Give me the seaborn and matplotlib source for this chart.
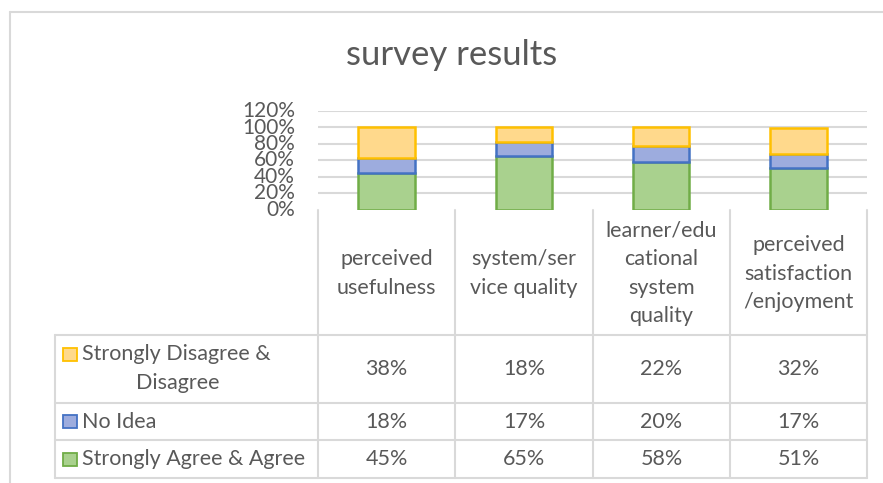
import matplotlib
matplotlib.use("Agg")
import matplotlib.pyplot as plt
import seaborn as sns
import pandas as pd
from matplotlib.lines import Line2D
from matplotlib.patches import Rectangle

# data
categories = ["perceived\nusefulness", "system/ser\nvice quality",
              "learner/edu\ncational\nsystem\nquality", "perceived\nsatisfaction\n/enjoyment"]
agree = [0.45, 0.65, 0.58, 0.51]
no_idea = [0.18, 0.17, 0.20, 0.17]
disagree = [0.38, 0.18, 0.22, 0.32]
series_names = ["Strongly Disagree &\nDisagree", "No Idea", "Strongly Agree & Agree"]

fills = {"agree": "#a9d18e", "no_idea": "#9dacde", "disagree": "#ffd98c"}
edges = {"agree": "#70ad47", "no_idea": "#4472c4", "disagree": "#ffc000"}
TXT = "#595959"
GRID = "#d9d9d9"
FS = 15.5

sns.set_theme(style="white")
plt.rcParams["font.family"] = ["Lato", "DejaVu Sans"]

W, H = 883, 483
fig = plt.figure(figsize=(W / 100, H / 100), dpi=100)


def fx(px):
    return px / W


def fy(py):
    return 1 - py / H


# plot area
x0, x1, ytop, ybot = 318, 867, 111, 210
ax = fig.add_axes([fx(x0), fy(ybot), fx(x1) - fx(x0), fy(ytop) - fy(ybot)])

df = pd.DataFrame({"cat": categories, "agree": agree, "no_idea": no_idea, "disagree": disagree})
df["b2"] = df["agree"] + df["no_idea"]

sns.barplot(data=df, x="cat", y="agree", color=fills["agree"], edgecolor=edges["agree"],
            linewidth=1.8, width=0.41, ax=ax, saturation=1, zorder=3)
sns.barplot(data=df, x="cat", y="no_idea", bottom=df["agree"], color=fills["no_idea"],
            edgecolor=edges["no_idea"], linewidth=1.8, width=0.41, ax=ax, saturation=1, zorder=3)
sns.barplot(data=df, x="cat", y="disagree", bottom=df["b2"], color=fills["disagree"],
            edgecolor=edges["disagree"], linewidth=1.8, width=0.41, ax=ax, saturation=1, zorder=3)

ax.set_xlim(-0.5, 3.5)
ax.set_ylim(0, 1.2)
yt = [0, 0.2, 0.4, 0.6, 0.8, 1.0, 1.2]
ax.set_yticks(yt)
ax.set_yticklabels([f"{int(round(v * 100))}%" for v in yt], color=TXT, fontsize=15)
ax.tick_params(axis="y", length=0, pad=16.5)
ax.set_xticks([])
ax.set_xlabel("")
ax.set_ylabel("")
for v in yt[1:]:
    ax.axhline(v, color=GRID, lw=1.5, zorder=1)
for s in ax.spines.values():
    s.set_visible(False)
for lab in ax.get_yticklabels():
    lab.set_verticalalignment("center")

# title
fig.text(fx(452), fy(55), "survey results", ha="center", va="center", fontsize=25, color=TXT)

# outer chart frame (left and top only visible)
fig.add_artist(Line2D([fx(10), fx(10)], [fy(12), 0], color=GRID, lw=1.5))
fig.add_artist(Line2D([fx(10), 1], [fy(12), fy(12)], color=GRID, lw=1.5))

# data table
cols = [318, 455, 593, 730, 867]
rows = [210, 335, 403, 440, 478]
tleft = 55
lk = dict(color=GRID, lw=1.5)
for c in cols:
    fig.add_artist(Line2D([fx(c), fx(c)], [fy(rows[0]), fy(rows[-1])], **lk))
fig.add_artist(Line2D([fx(tleft), fx(tleft)], [fy(rows[1]), fy(rows[-1])], **lk))
for r in rows[1:]:
    fig.add_artist(Line2D([fx(tleft), fx(cols[-1])], [fy(r), fy(r)], **lk))

for i, cat in enumerate(categories):
    cx = (cols[i] + cols[i + 1]) / 2
    fig.text(fx(cx), fy((rows[0] + rows[1]) / 2 + 1), cat, ha="center", va="center",
             fontsize=FS, color=TXT, linespacing=1.53)

table_vals = [disagree, no_idea, agree]
keys = ["disagree", "no_idea", "agree"]
for j in range(3):
    cy = (rows[j + 1] + rows[j + 2]) / 2
    for i in range(4):
        cx = (cols[i] + cols[i + 1]) / 2
        fig.text(fx(cx), fy(cy), f"{int(round(table_vals[j][i] * 100))}%", ha="center",
                 va="center", fontsize=FS, color=TXT)
    # legend key
    ky = 354 if j == 0 else cy
    fig.add_artist(Rectangle((fx(63.5), fy(ky + 6.5)), fx(13), fy(0) - fy(13),
                             facecolor=fills[keys[j]], edgecolor=edges[keys[j]], lw=1.3))
    if j == 0:
        fig.text(fx(82), fy(354), "Strongly Disagree &", ha="left", va="center",
                 fontsize=FS, color=TXT)
        fig.text(fx(178), fy(383), "Disagree", ha="center", va="center",
                 fontsize=FS, color=TXT)
    else:
        fig.text(fx(82), fy(cy), series_names[j], ha="left", va="center",
                 fontsize=FS, color=TXT)

fig.savefig("out.png", dpi=100, facecolor="white")
